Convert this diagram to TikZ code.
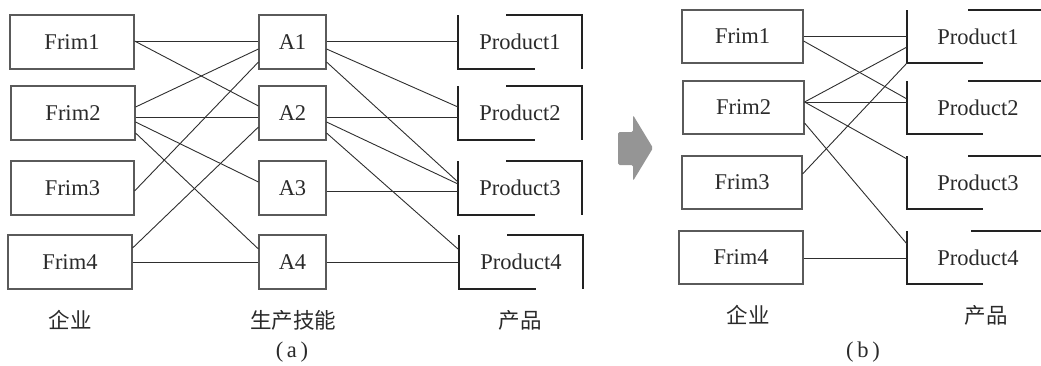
\documentclass[tikz,border=0pt]{standalone}
\usepackage{fontspec}
\setmainfont{Liberation Serif}
\newfontfamily\cjk{Noto Sans CJK SC}
\usetikzlibrary{calc}
\definecolor{boxline}{HTML}{5A5A5A}
\definecolor{conn}{HTML}{2E2E2E}
\definecolor{brk}{HTML}{222222}
\definecolor{arrowgray}{HTML}{959595}
\definecolor{txt}{HTML}{2A2A2A}
\begin{document}
\begin{tikzpicture}[x=1pt,y=-1pt,
  box/.style={draw=boxline,line width=1.1pt,minimum height=54pt,inner sep=0pt,text=txt,font=\fontsize{22.5}{22.5}\selectfont},
  firm/.style={box,minimum width=124pt},
  skill/.style={box,minimum width=67pt},
  prod/.style={inner sep=0pt,text=txt,font=\fontsize{22.5}{22.5}\selectfont},
  bracket/.style={draw=brk,line width=2.2pt},
  link/.style={draw=conn,line width=0.9pt},
  lab/.style={inner sep=0pt,text=txt,font=\cjk\fontsize{21.5}{21.5}\selectfont},
  sub/.style={inner sep=0pt,text=txt,font=\fontsize{22.5}{22.5}\selectfont}]
\useasboundingbox (0,0) rectangle (1041,365);
% ---------- (a) ----------
\node[firm] (f1) at (72,42) {Frim1};
\node[firm] (f2) at (73,113) {Frim2};
\node[firm,minimum width=123pt] (f3) at (72.5,188) {Frim3};
\node[firm] (f4) at (70,262) {Frim4};
\node[skill] (a1) at (292.5,42) {A1};
\node[skill] (a2) at (292.5,113) {A2};
\node[skill] (a3) at (292.5,188) {A3};
\node[skill] (a4) at (292.5,262) {A4};
\node[prod] (p1) at (520,42) {Product1};
\node[prod] (p2) at (520,113) {Product2};
\node[prod] (p3) at (520,188) {Product3};
\node[prod] (p4) at (521,262) {Product4};
\foreach \p in {p1,p2,p3,p4}{
  \draw[bracket] ([shift={(-62,-27)}]\p.center) -- ([shift={(-62,27)}]\p.center) -- ([shift={(15,27)}]\p.center);
  \draw[bracket] ([shift={(-14,-27)}]\p.center) -- ([shift={(62,-27)}]\p.center) -- ([shift={(62,27)}]\p.center);
}
% firm -> skill
\draw[link] ([shift={(0,-1)}]f1.east) -- ([shift={(0,-1)}]a1.west);
\draw[link] ([shift={(0,-1)}]f1.east) -- ([shift={(0,-7)}]a2.west);
\draw[link] ([shift={(0,-6)}]f2.east) -- ([shift={(0,7)}]a1.west);
\draw[link] ([shift={(0,4)}]f2.east) -- ([shift={(0,4)}]a2.west);
\draw[link] ([shift={(0,9)}]f2.east) -- ([shift={(0,-6)}]a3.west);
\draw[link] ([shift={(0,20)}]f2.east) -- ([shift={(0,-13)}]a4.west);
\draw[link] ([shift={(0,3)}]f3.east) -- ([shift={(0,20)}]a1.west);
\draw[link] ([shift={(0,-14)}]f4.east) -- ([shift={(0,14)}]a2.west);
\draw[link] (f4.east) -- (a4.west);
% skill -> product
\draw[link] ([shift={(0,-1)}]a1.east) -- ([shift={(-62,-1)}]p1.center);
\draw[link] ([shift={(0,7)}]a1.east) -- ([shift={(-62,-6)}]p2.center);
\draw[link] ([shift={(0,20)}]a1.east) -- ([shift={(-62,-6)}]p3.center);
\draw[link] ([shift={(0,4)}]a2.east) -- ([shift={(-62,4)}]p2.center);
\draw[link] ([shift={(0,9)}]a2.east) -- ([shift={(-62,-4)}]p3.center);
\draw[link] ([shift={(0,20)}]a2.east) -- ([shift={(-63,-13)}]p4.center);
\draw[link] ([shift={(0,3)}]a3.east) -- ([shift={(-62,3)}]p3.center);
\draw[link] (a4.east) -- ([shift={(-63,0)}]p4.center);
\node[lab] (la1) at (70,320) {企业};
\node[lab] (la2) at (293,320) {生产技能};
\node[lab] (la3) at (520,320) {产品};
\node[sub] (capa) at (292,352) {(\,a\,)};
% ---------- arrow ----------
\fill[arrowgray,rounded corners=1.5pt] (618,132) -- (633,132) -- (633,115) -- (653,148) -- (633,181) -- (633,165) -- (618,165) -- cycle;
% ---------- (b) ----------
\node[firm,minimum width=121pt,minimum height=53pt] (g1) at (742.5,36.5) {Frim1};
\node[firm,minimum width=121pt,minimum height=53pt] (g2) at (743.5,107.5) {Frim2};
\node[firm,minimum width=120pt,minimum height=53pt] (g3) at (742,182.5) {Frim3};
\node[firm,minimum width=124pt,minimum height=53pt] (g4) at (741,257.5) {Frim4};
\node[prod] (q1) at (978,36.5) {Product1};
\node[prod] (q2) at (978,107.5) {Product2};
\node[prod] (q3) at (978,182.5) {Product3};
\node[prod] (q4) at (978,257.5) {Product4};
\foreach \q/\t in {q1/-10,q2/-10,q3/-10,q4/-7}{
  \draw[bracket] ([shift={(-71,-26.5)}]\q.center) -- ([shift={(-71,26.5)}]\q.center) -- ([shift={(5,26.5)}]\q.center);
  \draw[bracket] ([shift={(\t,-26.5)}]\q.center) -- ([shift={(66,-26.5)}]\q.center);
}
\draw[link] ([shift={(0,-0.5)}]g1.east) -- ([shift={(-71,-0.5)}]q1.center);
\draw[link] ([shift={(0,4.5)}]g1.east) -- ([shift={(-71,-8.5)}]q2.center);
\draw[link] ([shift={(0,-5.5)}]g2.east) -- ([shift={(-71,10.5)}]q1.center);
\draw[link] ([shift={(0,-5.5)}]g2.east) -- ([shift={(-71,-5.5)}]q2.center);
\draw[link] ([shift={(0,-5.5)}]g2.east) -- ([shift={(-71,-23.5)}]q3.center);
\draw[link] ([shift={(0,15.5)}]g2.east) -- ([shift={(-71,-13.5)}]q4.center);
\draw[link] ([shift={(0,-8.5)}]g3.east) -- ([shift={(-71,26.5)}]q1.center);
\draw[link] ([shift={(0,0.5)}]g4.east) -- ([shift={(-71,0.5)}]q4.center);
\node[lab] (lb1) at (748,315) {企业};
\node[lab] (lb3) at (986,315) {产品};
\node[sub] (capb) at (863,352) {(\,b\,)};
\end{tikzpicture}
\end{document}
